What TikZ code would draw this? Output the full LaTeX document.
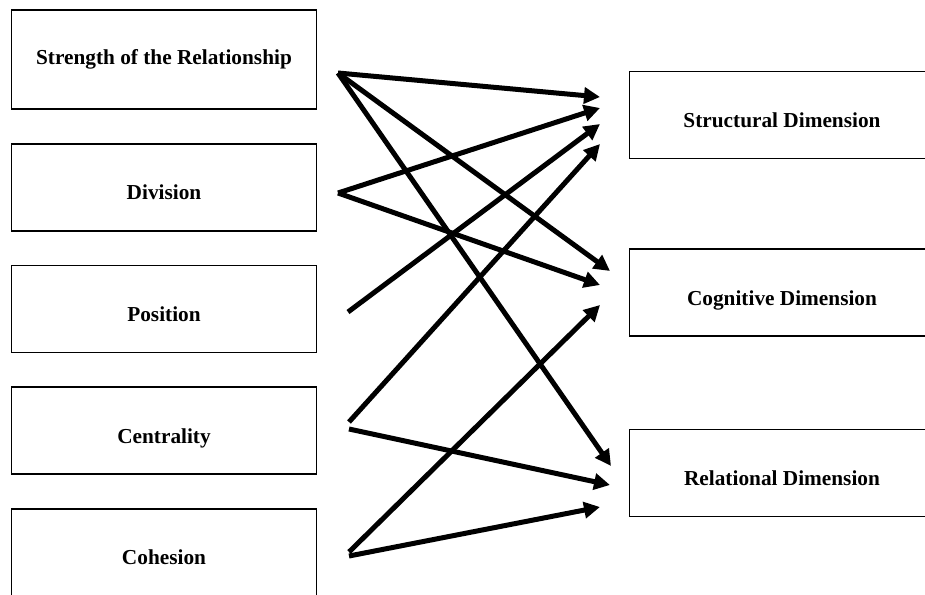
\documentclass[tikz,border=0pt]{standalone}
\usepackage{fontspec}
\setmainfont{Liberation Serif}
\usetikzlibrary{arrows.meta,
                positioning
                }

\begin{document}
\begin{tikzpicture}[x=1pt, y=-1pt,
          node distance = 33pt,
      box/.style = {draw, line width=1.7pt, minimum width=305pt, minimum height=87pt,
                    text height=25pt, text depth=0pt,
                    font=\fontsize{21.3}{25}\bfseries\selectfont},
      arr/.style = {line width=5pt, -{Triangle[length=16pt, width=16pt]}}
      ]
    \useasboundingbox (0,0) rectangle (925,594);
    \clip (0,0) rectangle (925,594);
    \node (str) [box, minimum height=99pt, text height=15pt, text depth=4.6pt] at (164,59.5)
          {Strength of the Relationship};
    \node (div) [box, below=of str] {Division};
    \node (pos) [box, below=of div] {Position};
    \node (cen) [box, below=of pos] {Centrality};
    \node (coh) [box, below=of cen, minimum height=95pt, text depth=9pt] {Cohesion};
    \node (sd) [box] at (782,115)   {Structural Dimension};
    \node (cd) [box] at (782,292.5) {Cognitive Dimension};
    \node (rd) [box] at (782,473)   {Relational Dimension};
    \coordinate (str-o) at (338,73);
    \coordinate (div-o) at (338,193);
    \coordinate (pos-o) at (348,312);
    \coordinate (cen-a) at (349,422);
    \coordinate (cen-b) at (349,429);
    \coordinate (coh-a) at (349,552);
    \coordinate (coh-b) at (349,556);
    \coordinate (sd-1) at (600,97);
    \coordinate (sd-2) at (600,108);
    \coordinate (sd-3) at (600,124);
    \coordinate (sd-4) at (600,144);
    \coordinate (cd-1) at (610,271);
    \coordinate (cd-2) at (600,285);
    \coordinate (cd-3) at (600,305);
    \coordinate (rd-1) at (611,466);
    \coordinate (rd-2) at (610,485);
    \coordinate (rd-3) at (600,507);
    \foreach \a/\b in {str-o/sd-1, str-o/cd-1, str-o/rd-1,
                       div-o/sd-2, div-o/cd-2,
                       pos-o/sd-3,
                       cen-a/sd-4, cen-b/rd-2,
                       coh-a/cd-3, coh-b/rd-3}
        \draw[arr] (\a) -- (\b);
\end{tikzpicture}
\end{document}
